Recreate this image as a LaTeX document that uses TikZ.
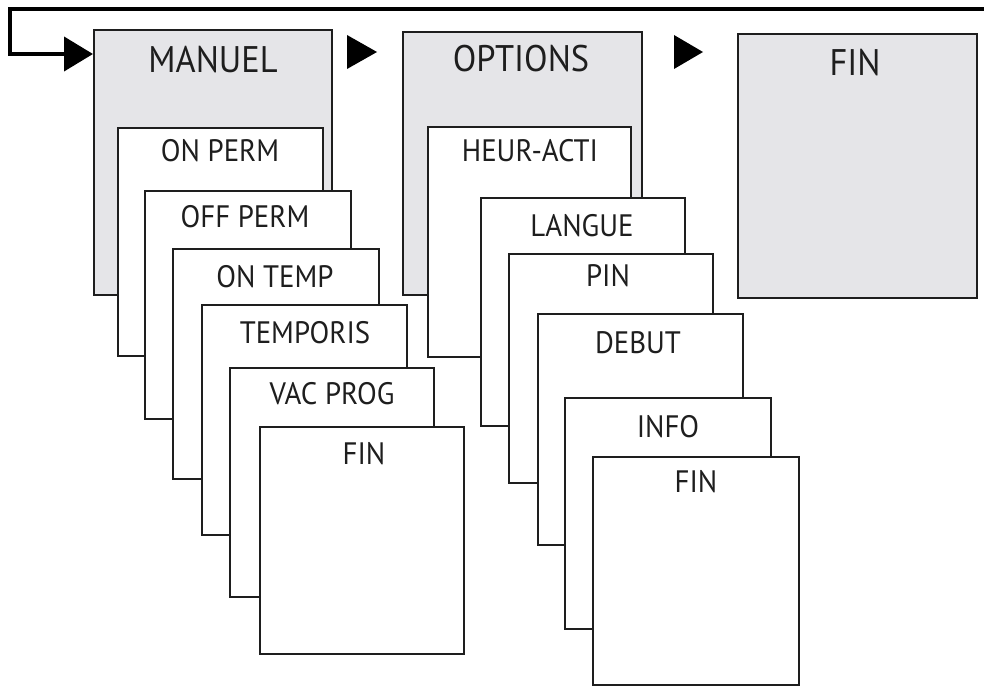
\documentclass[tikz,border=0pt]{standalone}
\usepackage{fontspec}
\setmainfont{PT Sans}[FakeStretch=0.93]
\usetikzlibrary{arrows.meta}
\definecolor{panelgray}{RGB}{229,229,232}
\definecolor{ink}{RGB}{30,30,30}
\begin{document}
\begin{tikzpicture}[x=1pt,y=-1pt,
  mainbox/.style={draw=ink, line width=2.2pt, fill=panelgray, anchor=north west, inner sep=0pt},
  subbox/.style={draw=ink, line width=2.2pt, fill=white, anchor=north west, inner sep=0pt},
  mainlab/.style={font=\fontsize{37}{40}\selectfont, text=ink, inner sep=0pt, anchor=center},
  sublab/.style={font=\fontsize{31}{34}\selectfont, text=ink, inner sep=0pt, anchor=center},
  flowtri/.style={fill=black},
  feedback/.style={draw=black, line width=4pt, line join=miter, -{Triangle[width=34pt,length=29pt]}}
]
\useasboundingbox (0,0) rectangle (984,690);

% ---- column 1 ----
\node[mainbox, minimum width=238pt, minimum height=265pt] (manuel) at (93,29) {};
\node[mainlab] (lmanuel) at (213,60) {MANUEL};
\node[subbox, minimum width=205pt, minimum height=228pt] (onperm) at (117,127) {};
\node[sublab] (lonperm) at (220,151) {ON PERM};
\node[subbox, minimum width=206pt, minimum height=228pt] (offperm) at (144,190) {};
\node[sublab] (loffperm) at (245,217) {OFF PERM};
\node[subbox, minimum width=206pt, minimum height=230pt] (ontemp) at (172,248) {};
\node[sublab] (lontemp) at (275,277) {ON TEMP};
\node[subbox, minimum width=205pt, minimum height=230pt] (temporis) at (201,304) {};
\node[sublab] (ltemporis) at (305,333) {TEMPORIS};
\node[subbox, minimum width=204pt, minimum height=229pt] (vacprog) at (229,367) {};
\node[sublab] (lvacprog) at (332,394) {VAC PROG};
\node[subbox, minimum width=204pt, minimum height=227pt] (fin1) at (259,426) {};
\node[sublab] (lfin1) at (364,454) {FIN};

% ---- column 2 ----
\node[mainbox, minimum width=239pt, minimum height=263pt] (options) at (402,31) {};
\node[mainlab] (loptions) at (521,59) {OPTIONS};
\node[subbox, minimum width=203pt, minimum height=230pt] (heur) at (427,126) {};
\node[sublab] (lheur) at (530,151) {HEUR-ACTI};
\node[subbox, minimum width=204pt, minimum height=228pt] (langue) at (480,197) {};
\node[sublab] (llangue) at (582,226) {LANGUE};
\node[subbox, minimum width=204pt, minimum height=229pt] (pin) at (508,253) {};
\node[sublab] (lpin) at (608,276) {PIN};
\node[subbox, minimum width=205pt, minimum height=231pt] (debut) at (537,313) {};
\node[sublab] (ldebut) at (638,343) {DEBUT};
\node[subbox, minimum width=206pt, minimum height=231pt] (info) at (564,397) {};
\node[sublab] (linfo) at (668,427) {INFO};
\node[subbox, minimum width=206pt, minimum height=228pt] (fin2) at (592,456) {};
\node[sublab] (lfin2) at (696,482) {FIN};

% ---- column 3 ----
\node[mainbox, minimum width=239pt, minimum height=264pt] (fin3) at (737,33) {};
\node[mainlab] (lfin3) at (855,63) {FIN};

% ---- flow triangles ----
\fill[flowtri] (347,35) -- (377,52) -- (347,69) -- cycle;
\fill[flowtri] (674,35) -- (703,52) -- (674,69) -- cycle;

% ---- feedback line ----
\coordinate (fbstart) at (984,9);
\coordinate (fbcorner) at (10,9);
\coordinate (fby) at (0,54);
\draw[feedback] (fbstart) -- (fbcorner) -- (fbcorner |- fby) -- (manuel.north west |- fby);
\end{tikzpicture}
\end{document}
